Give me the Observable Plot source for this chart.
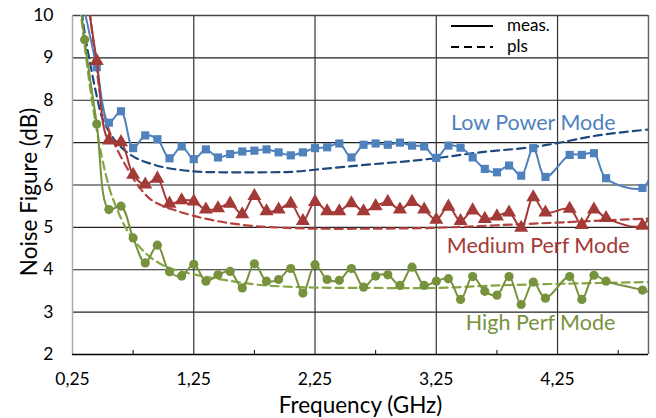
<!DOCTYPE html>
<html><head><meta charset="utf-8">
<script src="https://cdn.jsdelivr.net/npm/d3@7"></script>
<script src="https://cdn.jsdelivr.net/npm/@observablehq/plot@0.6"></script>
<style>
body{margin:0;background:#fff;font-family:Lato,"Open Sans",sans-serif;}
#wrap{position:relative;width:656px;height:418px;}
#legend{position:absolute;left:0;top:0;}
</style></head><body>
<div id="wrap"></div>
<script>
// ---- data ----
const freqLow = [0.35,0.45,0.55,0.65,0.75,0.85,0.95,1.05,1.15,1.25,1.35,1.45,1.55,1.65,1.75,1.85,1.95,2.05,2.15,2.25,2.35,2.45,2.55,2.65,2.75,2.85,2.95,3.05,3.15,3.25,3.35,3.45,3.55,3.65,3.75,3.85,3.95,4.05,4.15,4.35,4.45,4.55,4.65,4.95,5.05];
const nfLow   = [10.1,8.78,7.47,7.74,6.87,7.17,7.08,6.63,6.91,6.61,6.84,6.65,6.73,6.79,6.81,6.84,6.77,6.70,6.77,6.87,6.89,6.98,6.65,6.95,6.98,6.95,7.00,6.93,6.91,6.64,6.93,6.88,6.65,6.38,6.30,6.46,6.22,6.87,6.19,6.71,6.71,6.75,6.16,5.93,6.50];
const freqMed = [0.35,0.45,0.55,0.65,0.75,0.85,0.95,1.05,1.15,1.25,1.35,1.45,1.55,1.65,1.75,1.85,1.95,2.05,2.15,2.25,2.35,2.45,2.55,2.65,2.75,2.85,2.95,3.05,3.15,3.25,3.35,3.45,3.55,3.65,3.75,3.85,3.95,4.05,4.15,4.35,4.45,4.55,4.65,4.95,5.05];
const nfMed   = [10.8,8.93,7.05,7.01,6.24,6.01,6.15,5.56,5.64,5.61,5.42,5.45,5.56,5.31,5.74,5.38,5.42,5.56,5.15,5.60,5.38,5.38,5.57,5.38,5.50,5.60,5.42,5.60,5.42,5.18,5.49,5.15,5.40,5.20,5.26,5.35,4.99,5.71,5.35,5.44,5.06,5.42,5.22,5.04,5.60];
const freqHigh = [0.25,0.35,0.45,0.55,0.65,0.75,0.85,0.95,1.05,1.15,1.25,1.35,1.45,1.55,1.65,1.75,1.85,1.95,2.05,2.15,2.25,2.35,2.45,2.55,2.65,2.75,2.85,2.95,3.05,3.15,3.25,3.35,3.45,3.55,3.65,3.75,3.85,3.95,4.05,4.15,4.35,4.45,4.55,4.65,4.95,5.05];
const nfHigh   = [12.0,9.43,7.44,5.42,5.50,4.75,4.16,4.58,3.95,3.85,4.13,3.73,3.88,3.96,3.57,4.14,3.73,3.77,4.03,3.45,4.12,3.77,3.75,4.03,3.59,3.85,3.88,3.63,4.06,3.63,3.73,3.79,3.30,3.84,3.49,3.40,3.84,3.18,3.71,3.33,3.84,3.30,3.87,3.73,3.52,3.42];

const freqPlsLow = [0.30,0.35,0.40,0.45,0.50,0.60,0.70,0.80,0.90,1.00,1.25,1.50,1.80,2.05,2.25,2.60,2.93,3.24,3.61,4.03,4.25,4.58,5.00];
const plsLow     = [10.7,9.6,8.8,8.1,7.55,7.05,6.77,6.60,6.50,6.42,6.32,6.30,6.30,6.31,6.36,6.46,6.54,6.63,6.77,6.89,6.99,7.17,7.31];
const freqPlsMed = [0.35,0.40,0.45,0.50,0.55,0.60,0.70,0.80,0.90,1.00,1.10,1.25,1.50,1.75,2.00,2.25,2.75,3.25,3.75,4.30,5.00];
const plsMed     = [11.0,9.9,8.7,7.8,7.3,6.95,6.40,5.95,5.65,5.50,5.40,5.27,5.12,5.03,4.99,4.97,4.97,4.99,5.05,5.12,5.21];
const freqPlsHigh = [0.30,0.35,0.40,0.45,0.50,0.56,0.60,0.70,0.80,0.89,1.00,1.06,1.25,1.50,1.80,2.25,2.75,3.25,3.75,4.30,5.00];
const plsHigh     = [10.5,9.3,8.2,7.3,6.55,5.87,5.55,4.93,4.55,4.30,4.10,4.03,3.89,3.76,3.64,3.58,3.57,3.57,3.63,3.67,3.71];

const xTicks = [0.25,1.25,2.25,3.25,4.25];
const xMinorTicks = [0.75,1.75,2.75,3.75,4.75];
const yTicks = [2,3,4,5,6,7,8,9,10];
const xTitle = "Frequency (GHz)";
const yTitle = "Noise Figure (dB)";
const modeLabels = ["Low Power Mode","Medium Perf Mode","High Perf Mode"];
const modeLabelX = [4.05,4.09,4.11];
const modeLabelY = [7.47,4.55,2.73];
const legendLabels = ["meas.","pls"];

// ---- styles ----
const cLow="#4F81BD", cLowD="#1F497D", cMed="#A33A37", cMedD="#B5413E", cHigh="#76923C", cHighD="#86A544";
const zip = (xs, ys) => xs.map((x,i)=>({x, y: ys[i]}));
const low = zip(freqLow,nfLow), med = zip(freqMed,nfMed), high = zip(freqHigh,nfHigh);
const vis = d => d.y <= 10 && d.x <= 5.0;
const labels = modeLabels.map((t,i)=>({t, x: modeLabelX[i], y: modeLabelY[i]}));

const chart = Plot.plot({
  width: 656, height: 418,
  marginLeft: 72, marginRight: 8, marginTop: 15, marginBottom: 64,
  style: {fontFamily: "Lato, 'Open Sans', sans-serif", fontSize: "17.5px", color: "#000", background: "#fff"},
  x: {domain: [0.25, 5.0]},
  y: {domain: [2, 10]},
  marks: [
    Plot.ruleY(yTicks.filter(v=>v>2 && v<10), {stroke: "#222", strokeWidth: 1.2, strokeOpacity: 1}),
    Plot.ruleX(xTicks.filter(v=>v>0.25), {stroke: "#333", strokeWidth: 1.2}),
    Plot.ruleY([10], {stroke: "#444", strokeWidth: 1.5}),
    Plot.ruleX([5.0], {stroke: "#666", strokeWidth: 1.5}),
    Plot.ruleX([0.25], {stroke: "#aaa", strokeWidth: 1.5}),
    Plot.ruleY([2], {stroke: "#000", strokeWidth: 1.5}),
    Plot.axisX({ticks: xTicks, tickSize: 0, tickPadding: 18, tickFormat: d => d.toFixed(2).replace(".", ","), label: null}),
    Plot.axisX({ticks: xMinorTicks, tickSize: 4, dy: -4, text: null, label: null, stroke: "#000"}),
    Plot.axisY({ticks: yTicks, tickSize: 0, tickPadding: 19, label: null}),
    Plot.text([xTitle], {text: d => d, frameAnchor: "bottom", lineAnchor: "middle", textAnchor: "middle", dy: 51, fontSize: 22.5, fill: "#000"}),
    Plot.text([yTitle], {text: d => d, frameAnchor: "left", lineAnchor: "middle", textAnchor: "middle", dx: -43, dy: 7, rotate: -90, fontSize: 22.5, fill: "#000"}),
    Plot.line(zip(freqPlsLow,plsLow), {x:"x", y:"y", stroke: cLowD, strokeWidth: 2.2, strokeDasharray: "8,5", curve: "catmull-rom", clip: true}),
    Plot.line(zip(freqPlsMed,plsMed), {x:"x", y:"y", stroke: cMedD, strokeWidth: 2.2, strokeDasharray: "8,5", curve: "catmull-rom", clip: true}),
    Plot.line(zip(freqPlsHigh,plsHigh), {x:"x", y:"y", stroke: cHighD, strokeWidth: 2.2, strokeDasharray: "8,5", curve: "catmull-rom", clip: true}),
    Plot.line(low, {x:"x", y:"y", stroke: cLow, strokeWidth: 2, curve: "catmull-rom", clip: true}),
    Plot.dot(low.filter(vis), {x:"x", y:"y", fill: cLow, symbol: "square", r: 4.6}),
    Plot.line(med, {x:"x", y:"y", stroke: cMed, strokeWidth: 2, curve: "catmull-rom", clip: true}),
    Plot.dot(med.filter(vis), {x:"x", y:"y", fill: cMed, symbol: "triangle", r: 5.2}),
    Plot.line(high, {x:"x", y:"y", stroke: cHigh, strokeWidth: 2, curve: "catmull-rom", clip: true}),
    Plot.dot(high.filter(vis), {x:"x", y:"y", fill: cHigh, symbol: "circle", r: 4.6}),
    Plot.text(labels, {x:"x", y:"y", text:"t", fill: (d,i)=>[cLow,cMed,cHigh][i], fontSize: 21.5}),
  ]
});
const wrap = document.getElementById("wrap");
wrap.appendChild(chart);

// legend overlay
const ns = "http://www.w3.org/2000/svg";
const lg = document.createElementNS(ns, "svg");
lg.setAttribute("id","legend"); lg.setAttribute("width","656"); lg.setAttribute("height","60");
const styles = [null, "8,5"];
const rowY = [26, 47];
legendLabels.forEach((lab,i)=>{
  const ln = document.createElementNS(ns,"line");
  ln.setAttribute("x1",451); ln.setAttribute("x2",493); ln.setAttribute("y1",rowY[i]); ln.setAttribute("y2",rowY[i]);
  ln.setAttribute("stroke","#000"); ln.setAttribute("stroke-width","2");
  if (styles[i]) ln.setAttribute("stroke-dasharray", styles[i]);
  lg.appendChild(ln);
  const tx = document.createElementNS(ns,"text");
  tx.setAttribute("x",507); tx.setAttribute("y",rowY[i]+5);
  tx.setAttribute("font-family","Lato, 'Open Sans', sans-serif"); tx.setAttribute("font-size","17");
  tx.textContent = lab;
  lg.appendChild(tx);
});
wrap.appendChild(lg);
</script>
</body></html>
